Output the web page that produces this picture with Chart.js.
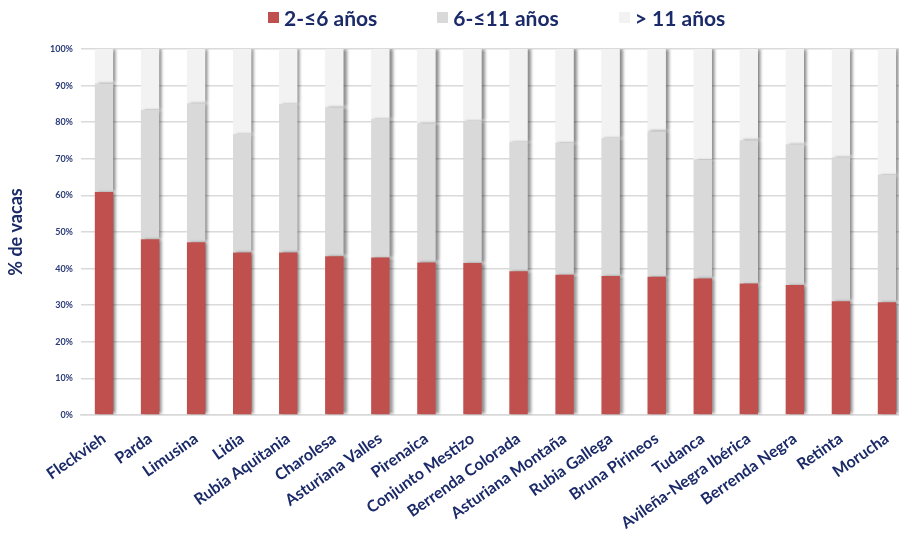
<!DOCTYPE html>
<html>
<head>
<meta charset="utf-8">
<script src="https://cdn.jsdelivr.net/npm/chart.js@4.4.1/dist/chart.umd.min.js"></script>
<style>
html,body{margin:0;padding:0;overflow:hidden;background:#fff;}
#wrap{position:relative;width:912px;height:534px;}
#legend{position:absolute;left:268px;top:5px;display:flex;align-items:center;font-family:Lato,"DejaVu Sans",sans-serif;font-weight:bold;font-size:21px;color:#1B2A68;}
#legend .item{display:flex;align-items:center;margin-right:60px;}
#legend .box{width:11px;height:11px;margin-right:5px;}
</style>
</head>
<body>
<div id="wrap">
<canvas id="c" width="912" height="534"></canvas>
<div id="legend"></div>
</div>
<script>
const categories = ["Fleckvieh","Parda","Limusina","Lidia","Rubia Aquitania","Charolesa","Asturiana Valles","Pirenaica","Conjunto Mestizo","Berrenda Colorada","Asturiana Montaña","Rubia Gallega","Bruna Pirineos","Tudanca","Avileña-Negra Ibérica","Berrenda Negra","Retinta","Morucha"];
const age2to6 = [60.9,48.0,47.2,44.4,44.4,43.4,43.0,41.7,41.5,39.3,38.3,38.0,37.8,37.3,35.9,35.5,31.1,30.8];
const age6to11 = [29.7,35.4,38.0,32.4,40.6,40.7,37.9,38.0,38.8,35.3,36.1,37.7,39.7,32.5,39.2,38.5,39.3,34.9];
const ageOver11 = [9.4,16.6,14.8,23.2,15.0,15.9,19.1,20.3,19.7,25.4,25.6,24.3,22.5,30.2,24.9,26.0,29.6,34.3];
const seriesNames = ["2-≤6 años","6-≤11 años","> 11 años"];
const yTicks = [0,10,20,30,40,50,60,70,80,90,100];

const colors = ["#C0504D","#D9D9D9","#F2F2F2"];
const navy = "#1B2A68";

const shadowPlugin = {
  id: 'barShadow',
  beforeDatasetsDraw(chart){
    const ctx = chart.ctx;
    ctx.save();
    ctx.shadowColor = 'rgba(0,0,0,0.45)';
    ctx.shadowOffsetX = 3;
    ctx.shadowOffsetY = 0;
    ctx.shadowBlur = 3;
  },
  afterDatasetsDraw(chart){
    chart.ctx.restore();
  }
};

const data = {
  labels: categories,
  datasets: [
    {label: seriesNames[0], data: age2to6, backgroundColor: colors[0]},
    {label: seriesNames[1], data: age6to11, backgroundColor: colors[1]},
    {label: seriesNames[2], data: ageOver11, backgroundColor: colors[2]}
  ]
};

const chart = new Chart(document.getElementById('c'), {
  type: 'bar',
  data: data,
  options: {
    responsive: false,
    animation: false,
    layout: {padding: {top: 49, right: 0, bottom: 0, left: 0}},
    datasets: {bar: {barPercentage: 0.4, categoryPercentage: 1.0, borderWidth: 0}},
    plugins: {
      legend: {display: false},
      tooltip: {enabled: false}
    },
    scales: {
      x: {
        stacked: true,
        grid: {display: false, drawTicks: false},
        border: {display: true, color: '#D9D9D9', width: 1.5},
        ticks: {
          autoSkip: false,
          minRotation: 35,
          maxRotation: 35,
          padding: 14,
          color: navy,
          font: {family: 'Lato, "DejaVu Sans", sans-serif', weight: 'bold', size: 16}
        },
        afterFit(s){ s.height = 534 - 415; }
      },
      y: {
        stacked: true,
        min: 0,
        max: 100,
        afterBuildTicks(s){ s.ticks = yTicks.map(v => ({value: v})); },
        grid: {color: '#DADADA', lineWidth: 1.5, drawTicks: false},
        border: {display: false},
        ticks: {
          padding: 8,
          color: '#2A3A78',
          font: {family: 'Lato, "DejaVu Sans", sans-serif', weight: 'bold', size: 9},
          callback: v => v + '%'
        },
        title: {
          display: true,
          text: '% de vacas',
          color: navy,
          padding: {top: 5, bottom: 0},
          font: {family: 'Lato, "DejaVu Sans", sans-serif', weight: 'bold', size: 18}
        },
        afterFit(s){ s.width = 81; }
      }
    }
  },
  plugins: [shadowPlugin]
});

const legendEl = document.getElementById('legend');
chart.data.datasets.forEach(ds => {
  const item = document.createElement('div');
  item.className = 'item';
  const box = document.createElement('span');
  box.className = 'box';
  box.style.background = ds.backgroundColor;
  const txt = document.createElement('span');
  txt.textContent = ds.label;
  item.appendChild(box);
  item.appendChild(txt);
  legendEl.appendChild(item);
});
</script>
</body>
</html>
